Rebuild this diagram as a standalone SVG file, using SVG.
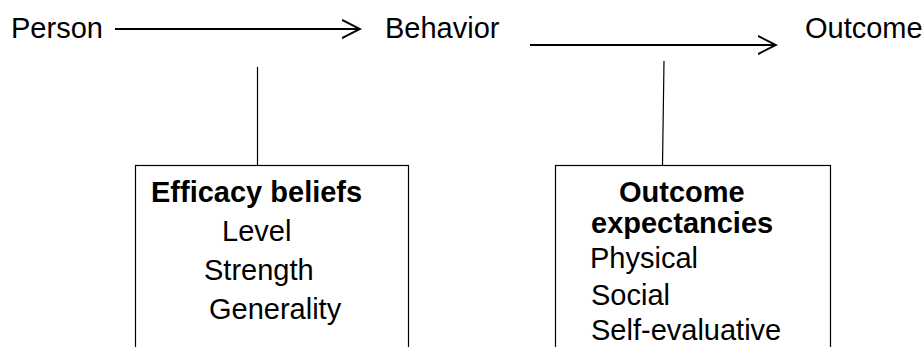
<svg xmlns="http://www.w3.org/2000/svg" width="924" height="347" viewBox="0 0 924 347">
<defs>
<style>
.t{font-family:"Liberation Sans",Arial,sans-serif;font-size:29px;fill:#000}
.b{font-weight:bold}
.box{fill:#fff;stroke:#000;stroke-width:1.2}
.ln{stroke:#000;stroke-width:1.2;fill:none}
.ar{stroke:#000;stroke-width:2;fill:none}
</style>
<marker id="chev" markerWidth="20" markerHeight="22" refX="18" refY="10" orient="auto" markerUnits="userSpaceOnUse">
<path d="M0,1 L18,10 L0,19" fill="none" stroke="#000" stroke-width="2"/>
</marker>
</defs>
<rect width="924" height="347" fill="#fff"/>
<g id="person"><text class="t" x="11" y="38">Person</text></g>
<g id="behavior"><text class="t" x="385" y="38">Behavior</text></g>
<g id="outcome"><text class="t" x="805" y="38">Outcome</text></g>
<g id="efficacy">
<rect class="box" x="135.5" y="165.5" width="273" height="200"/>
<text class="t b" x="151" y="202">Efficacy beliefs</text>
<text class="t" x="222" y="241">Level</text>
<text class="t" x="204" y="280">Strength</text>
<text class="t" x="209" y="319">Generality</text>
</g>
<g id="expectancies">
<rect class="box" x="555.5" y="165.5" width="275" height="200"/>
<text class="t b" x="619" y="202">Outcome</text>
<text class="t b" x="591" y="233">expectancies</text>
<text class="t" x="590" y="268">Physical</text>
<text class="t" x="591" y="305">Social</text>
<text class="t" x="591" y="340">Self-evaluative</text>
</g>
<g id="connectors">
<line class="ar" x1="115" y1="29" x2="360" y2="29" marker-end="url(#chev)"/>
<line class="ar" x1="530" y1="45" x2="776" y2="45" marker-end="url(#chev)"/>
<line class="ln" x1="257.5" y1="67" x2="257.5" y2="165"/>
<line class="ln" x1="664" y1="61" x2="662.5" y2="165"/>
</g>
</svg>
